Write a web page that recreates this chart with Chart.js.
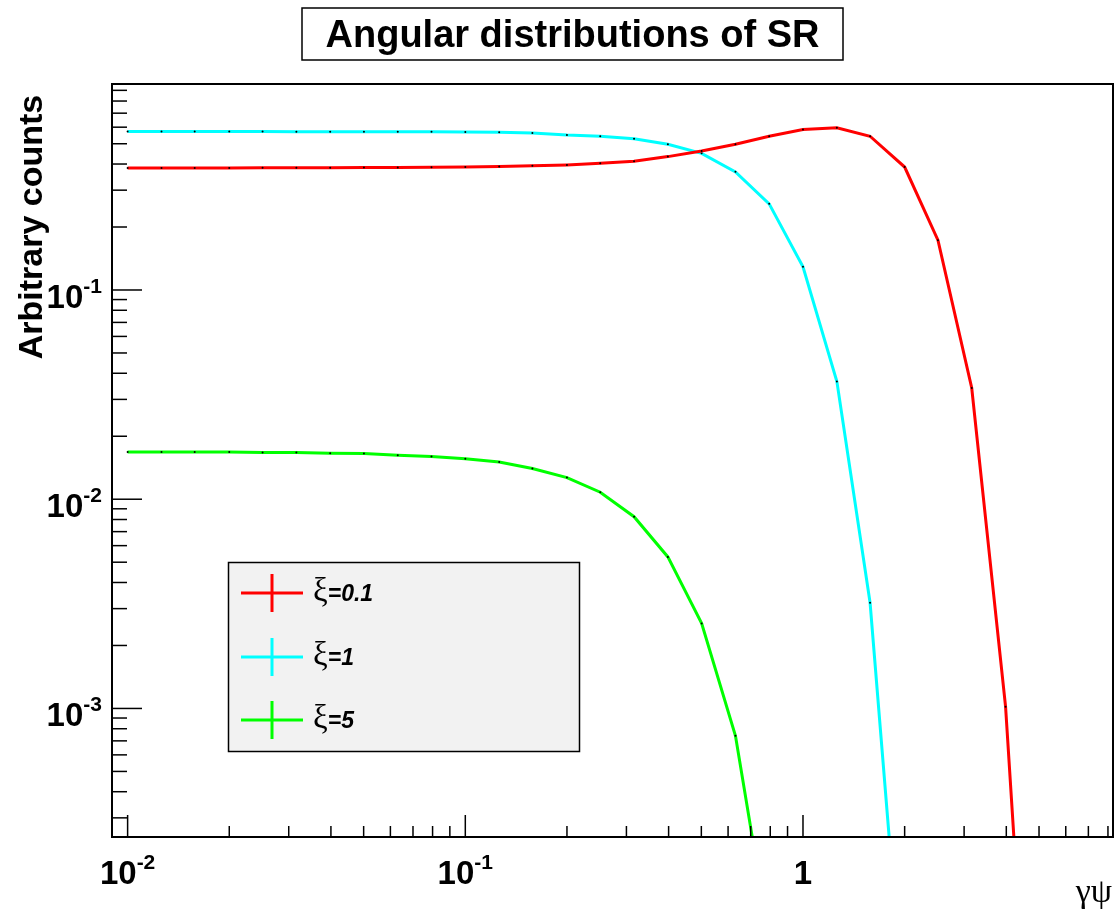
<!DOCTYPE html>
<html>
<head>
<meta charset="utf-8">
<title>Angular distributions of SR</title>
<script src="https://cdn.jsdelivr.net/npm/chart.js@4.4.1/dist/chart.umd.min.js"></script>
<style>
html,body{margin:0;padding:0;background:#fff;}
canvas{display:block;}
</style>
</head>
<body>
<canvas id="srChart" width="1117" height="913"></canvas>
<script>
// gamma*psi sampling points (0.1 decade steps)
let gammaPsi=[0.01,0.0126,0.0158,0.02,0.0251,0.0316,0.0398,0.0501,0.0631,0.0794,
              0.1,0.126,0.158,0.2,0.251,0.316,0.398,0.501,0.631,0.794,
              1,1.26,1.58,2,2.51,3.16,3.98,5.01];

// counts, one list per xi
let xi01=[0.383,0.383,0.383,0.383,0.384,0.384,0.384,0.385,0.385,0.386,
          0.387,0.389,0.392,0.396,0.403,0.412,0.434,0.462,0.497,0.543,
          0.585,0.596,0.543,0.387,0.173,0.034,0.00102,0.000003];
let xi1=[0.572,0.572,0.572,0.572,0.572,0.571,0.571,0.571,0.570,0.570,
         0.569,0.567,0.563,0.550,0.543,0.528,0.497,0.450,0.367,0.258,
         0.129,0.0365,0.0032,0.00003];
let xi5=[0.0168,0.0168,0.0168,0.0168,0.0167,0.0167,0.0166,0.01654,0.01622,0.0160,
         0.01563,0.01507,0.01403,0.01269,0.0108,0.00825,0.0053,0.00255,0.00074,0.000079];

let seriesNames=['=0.1','=1','=5'];
let seriesColors=['#ff0000','#00ffff','#00ff00'];

let xTicks=[0.01,0.1,1];
let xTickText=[['10','-2'],['10','-1'],['1','']];
let yTicks=[0.1,0.01,0.001];
let yTickText=[['10','-1'],['10','-2'],['10','-3']];

let titleText='Angular distributions of SR';
let yTitle='Arbitrary counts';
let xTitle='\u03b3\u03c8';

function makeSeries(vals,i) {
    let pts=[];
    for (let k=0;k<vals.length;k++) {
        pts.push({x:gammaPsi[k],y:vals[k]});
    }
    return {
        label           : seriesNames[i],
        data            : pts,
        borderColor     : seriesColors[i],
        borderWidth     : 3,
        tension         : 0,
        fill            : false,
        pointRadius     : 1,
        pointBorderWidth: 0,
        pointBackgroundColor: '#000'
    };
}

// label like 10^-2 : base text plus raised exponent
function drawPowerLabel(ctx,parts,x,baseY,align) {
    ctx.font='bold 33px "Liberation Sans", Arial, sans-serif';
    let wb=ctx.measureText(parts[0]).width;
    ctx.font='bold 21px "Liberation Sans", Arial, sans-serif';
    let we=parts[1] ? ctx.measureText(parts[1]).width : 0;
    let total=wb+we;
    let start= align==='right' ? x-total : x-total/2;
    ctx.textAlign='left';
    ctx.textBaseline='alphabetic';
    ctx.font='bold 33px "Liberation Sans", Arial, sans-serif';
    ctx.fillText(parts[0],start,baseY);
    if (parts[1]) {
        ctx.font='bold 21px "Liberation Sans", Arial, sans-serif';
        ctx.fillText(parts[1],start+wb,baseY-15);
    }
}

const rootStyle={
    id:'rootStyle',
    afterDraw(chart) {
        let ctx=chart.ctx, a=chart.chartArea;
        let xs=chart.scales.x, ys=chart.scales.y;
        ctx.save();
        ctx.fillStyle='#000';
        ctx.strokeStyle='#000';

        // frame
        ctx.lineWidth=2;
        ctx.strokeRect(a.left,a.top,a.right-a.left,a.bottom-a.top);

        // inner ticks, major at 1, minor at 2..9
        ctx.lineWidth=1.5;
        for (let e=-4;e<=1;e++) {
            for (let m=1;m<=9;m++) {
                let v=m*Math.pow(10,e);
                if (v>xs.min && v<xs.max) {
                    let px=xs.getPixelForValue(v);
                    let len= m===1 ? 22 : 11;
                    ctx.beginPath();
                    ctx.moveTo(px,a.bottom);
                    ctx.lineTo(px,a.bottom-len);
                    ctx.stroke();
                }
                if (v>ys.min && v<ys.max) {
                    let py=ys.getPixelForValue(v);
                    let len= m===1 ? 30 : 15;
                    ctx.beginPath();
                    ctx.moveTo(a.left,py);
                    ctx.lineTo(a.left+len,py);
                    ctx.stroke();
                }
            }
        }

        // tick labels
        for (let i=0;i<xTicks.length;i++) {
            drawPowerLabel(ctx,xTickText[i],xs.getPixelForValue(xTicks[i]),a.bottom+47,'center');
        }
        for (let i=0;i<yTicks.length;i++) {
            drawPowerLabel(ctx,yTickText[i],a.left-10,ys.getPixelForValue(yTicks[i])+18,'right');
        }

        // axis titles
        ctx.save();
        ctx.translate(42,227);
        ctx.rotate(-Math.PI/2);
        ctx.textAlign='center';
        ctx.textBaseline='alphabetic';
        ctx.font='bold 34px "Liberation Sans", Arial, sans-serif';
        ctx.fillText(yTitle,0,0);
        ctx.restore();

        ctx.textAlign='right';
        ctx.font='34px "Liberation Serif", "DejaVu Serif", serif';
        ctx.fillText(xTitle,1112,902);

        // title box
        ctx.fillStyle='#fff';
        ctx.fillRect(302,8,541,52);
        ctx.lineWidth=1.5;
        ctx.strokeRect(302,8,541,52);
        ctx.fillStyle='#000';
        ctx.textAlign='center';
        ctx.font='bold 38px "Liberation Sans", Arial, sans-serif';
        ctx.fillText(titleText,572.5,47);

        // legend box
        ctx.fillStyle='#f2f2f2';
        ctx.fillRect(228.5,562.5,351,189);
        ctx.strokeStyle='#000';
        ctx.lineWidth=1.5;
        ctx.strokeRect(228.5,562.5,351,189);
        let rows=[593,657,720];
        for (let i=0;i<seriesNames.length;i++) {
            let ry=rows[i];
            ctx.strokeStyle=seriesColors[i];
            ctx.lineWidth=3;
            ctx.beginPath();
            ctx.moveTo(241,ry); ctx.lineTo(303,ry);
            ctx.moveTo(272,ry-19); ctx.lineTo(272,ry+19);
            ctx.stroke();
            ctx.fillStyle='#000';
            ctx.textAlign='left';
            ctx.font='33px "Liberation Serif", "DejaVu Serif", serif';
            ctx.fillText('\u03be',313,ry+8);
            let wx=ctx.measureText('\u03be').width;
            ctx.font='italic bold 23px "Liberation Sans", Arial, sans-serif';
            ctx.fillText(seriesNames[i],313+wx,ry+8);
        }
        ctx.restore();
    }
};

new Chart(document.getElementById('srChart'),{
    type:'line',
    data:{
        datasets:[makeSeries(xi01,0),makeSeries(xi1,1),makeSeries(xi5,2)]
    },
    options:{
        responsive:false,
        animation:false,
        layout:{padding:{left:112,top:84,right:3,bottom:76}},
        plugins:{
            legend:{display:false},
            title:{display:false},
            tooltip:{enabled:false}
        },
        scales:{
            x:{type:'logarithmic',min:0.00899,max:8.28,display:false},
            y:{type:'logarithmic',min:0.000243,max:0.965,display:false}
        }
    },
    plugins:[rootStyle]
});
</script>
</body>
</html>
